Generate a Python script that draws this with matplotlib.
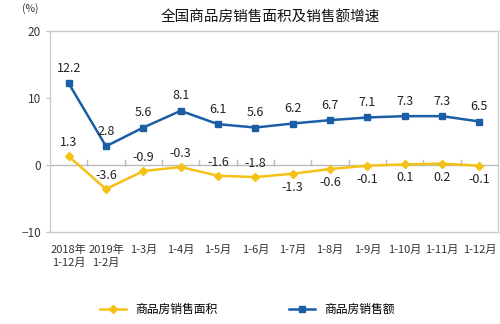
import matplotlib.pyplot as plt

plt.rcParams['font.family'] = ['Noto Sans CJK SC', 'DejaVu Sans']

# 数据
categories = ['2018年\n1-12月', '2019年\n1-2月', '1-3月', '1-4月', '1-5月', '1-6月',
              '1-7月', '1-8月', '1-9月', '1-10月', '1-11月', '1-12月']
area_growth = [1.3, -3.6, -0.9, -0.3, -1.6, -1.8, -1.3, -0.6, -0.1, 0.1, 0.2, -0.1]
sales_growth = [12.2, 2.8, 5.6, 8.1, 6.1, 5.6, 6.2, 6.7, 7.1, 7.3, 7.3, 6.5]
area_label_above = [True, True, True, True, True, True, False, False, False, False, False, False]

yellow = '#F5C116'
blue = '#1B5EA6'

fig = plt.figure(figsize=(5, 3.24), dpi=100)
ax = fig.add_axes([0.1, 0.284, 0.896, 0.62])

x = list(range(len(categories)))
ax.plot(x, area_growth, color=yellow, lw=1.8, marker='D', ms=4, label='商品房销售面积')
ax.plot(x, sales_growth, color=blue, lw=1.8, marker='s', ms=4, label='商品房销售额')

for i, v in enumerate(sales_growth):
    ax.annotate(f'{v}', (i, v), xytext=(0, 6), textcoords='offset points',
                ha='center', va='bottom', fontsize=9, color='#222222')
for i, v in enumerate(area_growth):
    if area_label_above[i]:
        ax.annotate(f'{v}', (i, v), xytext=(0, 5), textcoords='offset points',
                    ha='center', va='bottom', fontsize=9, color='#222222')
    else:
        ax.annotate(f'{v}', (i, v), xytext=(0, -5), textcoords='offset points',
                    ha='center', va='top', fontsize=9, color='#222222')

ax.set_xlim(-0.5, len(categories) - 0.5)
ax.set_ylim(-10, 20)
ax.set_yticks([-10, 0, 10, 20])
ax.tick_params(axis='y', labelsize=8.5, length=3, color='#BBBBBB', labelcolor='#333333')

# 零线与分类刻度
ax.axhline(0, color='#BBBBBB', lw=1, zorder=1)
for b in range(1, len(categories)):
    ax.plot([b - 0.5, b - 0.5], [0, 0.8], color='#BBBBBB', lw=1, zorder=1)

ax.set_xticks(x)
ax.set_xticklabels(categories, fontsize=8, color='#333333', linespacing=1.4)
ax.tick_params(axis='x', length=0, pad=9)

for s in ax.spines.values():
    s.set_color('#CCCCCC')
    s.set_linewidth(1)

fig.text(0.54, 0.945, '全国商品房销售面积及销售额增速', ha='center', va='center', fontsize=10.5, color='#111111')
fig.text(0.06, 0.975, '(%)', ha='center', va='center', fontsize=7.5, color='#333333')

fig.legend(loc='center', bbox_to_anchor=(0.495, 0.045), ncol=2, frameon=False,
           fontsize=8.5, columnspacing=6, handlelength=2.2)

fig.savefig('out.png', dpi=100)
